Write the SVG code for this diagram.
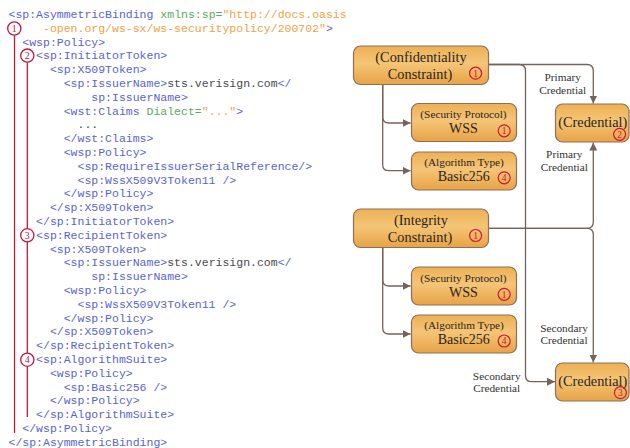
<svg xmlns="http://www.w3.org/2000/svg" width="630" height="448" viewBox="0 0 630 448">
  <style>
    .code { font-family: "Liberation Mono", "Courier New", monospace; font-size: 11.5px; }
    .tg { fill: #5b63d3; }
    .at { fill: #5aac5a; }
    .vl { fill: #f0a247; }
    .tx { fill: #4a4a4a; }
    .mark { fill: #fff; stroke: #c2173f; stroke-width: 1.3; }
    .markline { stroke: #c2173f; stroke-width: 1.3; fill: none; }
    .marknum { font-family: "Liberation Serif", "Times New Roman", serif; font-size: 10px; fill: #c2173f; text-anchor: middle; }
    .box { fill: url(#boxfill); stroke: #8c7059; stroke-width: 1.2; }
    .title { font-family: "Liberation Serif", "Times New Roman", serif; font-size: 14.3px; fill: #2b2520; text-anchor: middle; }
    .small { font-family: "Liberation Serif", "Times New Roman", serif; font-size: 11.3px; fill: #2b2520; text-anchor: middle; }
    .val { font-family: "Liberation Serif", "Times New Roman", serif; font-size: 14px; fill: #2b2520; text-anchor: middle; }
    .badge { fill: none; stroke: #c8193d; stroke-width: 1.2; }
    .badgenum { font-family: "Liberation Serif", "Times New Roman", serif; font-size: 9.5px; fill: #c8193d; text-anchor: middle; }
    .conn { fill: none; stroke: #75635d; stroke-width: 1.3; marker-end: url(#arrow); }
    .lbl { font-family: "Liberation Serif", "Times New Roman", serif; font-size: 11.3px; fill: #333; text-anchor: middle; }
  </style>
  <defs>
    <linearGradient id="boxfill" x1="0" y1="0" x2="0" y2="1">
      <stop offset="0" stop-color="#edb055"/>
      <stop offset="0.45" stop-color="#f4c577"/>
      <stop offset="1" stop-color="#e8a346"/>
    </linearGradient>
    <marker id="arrow" markerUnits="userSpaceOnUse" markerWidth="9" markerHeight="8" refX="8" refY="4" orient="auto">
      <path d="M0,0 L8,4 L0,8 Z" fill="#75635d"/>
    </marker>
  </defs>

  <rect width="630" height="448" fill="#fff"/>

  <!-- XML policy listing -->
  <g id="listing" class="code">
    <text x="8.5" y="18"><tspan class="tg">&lt;sp:AsymmetricBinding</tspan><tspan class="at"> xmlns:sp=</tspan><tspan class="vl">"http://docs.oasis</tspan></text>
    <text x="43" y="31.8"><tspan class="vl">-open.org/ws-sx/ws-securitypolicy/200702"</tspan><tspan class="tg">&gt;</tspan></text>
    <text x="22.3" y="45.6" class="tg">&lt;wsp:Policy&gt;</text>
    <text x="36.1" y="59.4" class="tg">&lt;sp:InitiatorToken&gt;</text>
    <text x="49.9" y="73.2" class="tg">&lt;sp:X509Token&gt;</text>
    <text x="63.7" y="87"><tspan class="tg">&lt;sp:IssuerName&gt;</tspan><tspan class="tx">sts.verisign.com</tspan><tspan class="tg">&lt;/</tspan></text>
    <text x="91.3" y="100.8" class="tg">sp:IssuerName&gt;</text>
    <text x="63.7" y="114.6"><tspan class="tg">&lt;wst:Claims</tspan><tspan class="at"> Dialect=</tspan><tspan class="vl">"..."</tspan><tspan class="tg">&gt;</tspan></text>
    <text x="77.5" y="128.4" class="tx">...</text>
    <text x="63.7" y="142.2" class="tg">&lt;/wst:Claims&gt;</text>
    <text x="63.7" y="156" class="tg">&lt;wsp:Policy&gt;</text>
    <text x="77.5" y="169.8" class="tg">&lt;sp:RequireIssuerSerialReference/&gt;</text>
    <text x="77.5" y="183.6" class="tg">&lt;sp:WssX509V3Token11 /&gt;</text>
    <text x="63.7" y="197.4" class="tg">&lt;/wsp:Policy&gt;</text>
    <text x="49.9" y="211.2" class="tg">&lt;/sp:X509Token&gt;</text>
    <text x="36.1" y="225" class="tg">&lt;/sp:InitiatorToken&gt;</text>
    <text x="36.1" y="238.8" class="tg">&lt;sp:RecipientToken&gt;</text>
    <text x="49.9" y="252.6" class="tg">&lt;sp:X509Token&gt;</text>
    <text x="63.7" y="266.4"><tspan class="tg">&lt;sp:IssuerName&gt;</tspan><tspan class="tx">sts.verisign.com</tspan><tspan class="tg">&lt;/</tspan></text>
    <text x="91.3" y="280.2" class="tg">sp:IssuerName&gt;</text>
    <text x="63.7" y="294" class="tg">&lt;wsp:Policy&gt;</text>
    <text x="77.5" y="307.8" class="tg">&lt;sp:WssX509V3Token11 /&gt;</text>
    <text x="63.7" y="321.6" class="tg">&lt;/wsp:Policy&gt;</text>
    <text x="49.9" y="335.4" class="tg">&lt;/sp:X509Token&gt;</text>
    <text x="36.1" y="349.2" class="tg">&lt;/sp:RecipientToken&gt;</text>
    <text x="36.1" y="363" class="tg">&lt;sp:AlgorithmSuite&gt;</text>
    <text x="49.9" y="376.8" class="tg">&lt;wsp:Policy&gt;</text>
    <text x="63.7" y="390.6" class="tg">&lt;sp:Basic256 /&gt;</text>
    <text x="49.9" y="404.4" class="tg">&lt;/wsp:Policy&gt;</text>
    <text x="36.1" y="418.2" class="tg">&lt;/sp:AlgorithmSuite&gt;</text>
    <text x="22.3" y="432" class="tg">&lt;/wsp:Policy&gt;</text>
    <text x="8.5" y="445.8" class="tg">&lt;/sp:AsymmetricBinding&gt;</text>
  </g>

  <!-- numbered section markers along the listing -->
  <g id="markers">
    <line class="markline" x1="14.5" y1="35.5" x2="14.5" y2="433"/>
    <line class="markline" x1="27.3" y1="62.3" x2="27.3" y2="228.5"/>
    <line class="markline" x1="27.3" y1="242" x2="27.3" y2="353"/>
    <line class="markline" x1="27.3" y1="366.4" x2="27.3" y2="417"/>
    <circle class="mark" cx="14.3" cy="28.5" r="6.6"/>
    <text class="marknum" x="14.3" y="32">1</text>
    <circle class="mark" cx="27.3" cy="55.6" r="6.6"/>
    <text class="marknum" x="27.3" y="59.1">2</text>
    <circle class="mark" cx="27.3" cy="235.3" r="6.6"/>
    <text class="marknum" x="27.3" y="238.8">3</text>
    <circle class="mark" cx="27.3" cy="359.7" r="6.6"/>
    <text class="marknum" x="27.3" y="363.2">4</text>
  </g>

  <!-- connectors -->
  <g id="connectors">
    <path class="conn" d="M382.7,84.5 V117 Q382.7,123 389,123 H410.5"/>
    <path class="conn" d="M382.7,84.5 V164.7 Q382.7,170.7 389,170.7 H410.5"/>
    <path class="conn" d="M488.5,64.5 H587 Q593.3,64.5 593.3,71 V103.5"/>
    <path class="conn" d="M488.5,64.5 H519 Q525.5,64.5 525.5,71 V375.4 Q525.5,381.7 532,381.7 H555"/>
    <path class="conn" d="M488.5,228.3 H587 Q593.3,228.3 593.3,222 V142.5"/>
    <path class="conn" d="M488.5,228.3 H587 Q593.3,228.3 593.3,234.6 V362.5"/>
    <path class="conn" d="M382.7,248 V280 Q382.7,286 389,286 H410.5"/>
    <path class="conn" d="M382.7,248 V328 Q382.7,334 389,334 H410.5"/>
    <text class="lbl" x="562.7" y="81.3">Primary</text>
    <text class="lbl" x="562.7" y="94.3">Credential</text>
    <text class="lbl" x="564.3" y="158">Primary</text>
    <text class="lbl" x="564.3" y="171">Credential</text>
    <text class="lbl" x="564" y="331.5">Secondary</text>
    <text class="lbl" x="564" y="344">Credential</text>
    <text class="lbl" x="496.7" y="379.5">Secondary</text>
    <text class="lbl" x="496.7" y="392">Credential</text>
  </g>

  <!-- constraint nodes -->
  <g id="confidentiality">
    <rect class="box" x="353.5" y="46" width="135" height="38.5" rx="7"/>
    <text class="title" x="421" y="61.5">(Confidentiality</text>
    <text class="title" x="420" y="78.5">Constraint)</text>
    <circle class="badge" cx="475.6" cy="73.2" r="6"/>
    <text class="badgenum" x="475.6" y="76.6">1</text>
  </g>
  <g id="conf-protocol">
    <rect class="box" x="411.5" y="103.5" width="105" height="38" rx="7"/>
    <text class="small" x="463.5" y="118">(Security Protocol)</text>
    <text class="val" x="463.5" y="133.3">WSS</text>
    <circle class="badge" cx="504.2" cy="130.8" r="6"/>
    <text class="badgenum" x="504.2" y="134.2">1</text>
  </g>
  <g id="conf-algorithm">
    <rect class="box" x="411.5" y="152" width="105" height="38" rx="7"/>
    <text class="small" x="464" y="166.3">(Algorithm Type)</text>
    <text class="val" x="463.8" y="181.3">Basic256</text>
    <circle class="badge" cx="504.2" cy="177.8" r="6"/>
    <text class="badgenum" x="504.2" y="181.2">4</text>
  </g>
  <g id="integrity">
    <rect class="box" x="353.5" y="209" width="135" height="38.5" rx="7"/>
    <text class="title" x="421" y="224.5">(Integrity</text>
    <text class="title" x="420" y="241.5">Constraint)</text>
    <circle class="badge" cx="475.6" cy="235.5" r="6"/>
    <text class="badgenum" x="475.6" y="238.9">1</text>
  </g>
  <g id="integ-protocol">
    <rect class="box" x="411.5" y="267" width="105" height="38" rx="7"/>
    <text class="small" x="463.5" y="281.5">(Security Protocol)</text>
    <text class="val" x="463.5" y="296.8">WSS</text>
    <circle class="badge" cx="504.2" cy="294.3" r="6"/>
    <text class="badgenum" x="504.2" y="297.7">1</text>
  </g>
  <g id="integ-algorithm">
    <rect class="box" x="411.5" y="315" width="105" height="38" rx="7"/>
    <text class="small" x="464" y="329.3">(Algorithm Type)</text>
    <text class="val" x="463.8" y="344.3">Basic256</text>
    <circle class="badge" cx="504.2" cy="341" r="6"/>
    <text class="badgenum" x="504.2" y="344.4">4</text>
  </g>

  <!-- credential nodes -->
  <g id="credential-primary">
    <rect class="box" x="555.5" y="104" width="73.5" height="38" rx="7"/>
    <text class="title" x="592.8" y="127">(Credential)</text>
    <circle class="badge" cx="619.6" cy="134.3" r="6"/>
    <text class="badgenum" x="619.6" y="137.7">2</text>
  </g>
  <g id="credential-secondary">
    <rect class="box" x="555.5" y="363" width="73.5" height="38" rx="7"/>
    <text class="title" x="592.8" y="386">(Credential)</text>
    <circle class="badge" cx="620.4" cy="392.7" r="6"/>
    <text class="badgenum" x="620.4" y="396.1">3</text>
  </g>
</svg>
